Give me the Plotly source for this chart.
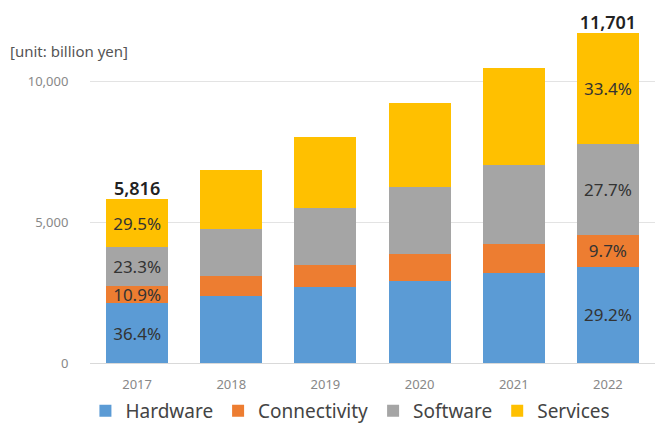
import plotly.graph_objects as go

years = ["2017", "2018", "2019", "2020", "2021", "2022"]
hardware = [2117, 2362, 2681, 2929, 3213, 3417]
connectivity = [634, 734, 805, 947, 1017, 1135]
software = [1355, 1666, 2021, 2386, 2802, 3241]
services = [1710, 2093, 2507, 2958, 3429, 3908]

hw_text = ["36.4%", "", "", "", "", "29.2%"]
cn_text = ["10.9%", "", "", "", "", "9.7%"]
sw_text = ["23.3%", "", "", "", "", "27.7%"]
sv_text = ["29.5%", "", "", "", "", "33.4%"]

total_text = ["5,816", "", "", "", "", "11,701"]

series = [
    ("Hardware", hardware, hw_text, "#5B9BD5"),
    ("Connectivity", connectivity, cn_text, "#ED7D31"),
    ("Software", software, sw_text, "#A5A5A5"),
    ("Services", services, sv_text, "#FFC000"),
]

FONT = "Noto Sans"

fig = go.Figure()
for name, vals, txt, col in series:
    fig.add_trace(go.Bar(
        x=years, y=vals, name=name, marker=dict(color=col, line=dict(width=0)),
        text=txt, textposition="inside", insidetextanchor="middle", textangle=0,
        textfont=dict(color="#333333", size=17, family=FONT),
        hoverinfo="skip",
    ))

totals = [a + b + c + d for a, b, c, d in zip(hardware, connectivity, software, services)]
fig.add_trace(go.Scatter(
    x=years, y=totals, mode="text", text=total_text, textposition="top center",
    textfont=dict(size=18, color="#222222", family=FONT, weight=600),
    showlegend=False, cliponaxis=False, hoverinfo="skip",
))

fig.add_annotation(xref="paper", yref="paper", x=-0.145, y=0.958, xanchor="left",
                   text="[unit: billion yen]", showarrow=False,
                   font=dict(size=15, color="#555555", family=FONT))

fig.update_layout(
    barmode="stack",
    bargap=0.34,
    width=655, height=430,
    margin=dict(l=90, r=0, t=25, b=67),
    paper_bgcolor="white", plot_bgcolor="white",
    font=dict(family=FONT),
    uniformtext=dict(minsize=17, mode="show"),
    legend=dict(orientation="h", xref="container", x=0.535, xanchor="center",
                yref="container", y=-0.005, yanchor="bottom",
                font=dict(size=19, color="#444444", family=FONT),
                itemwidth=30, traceorder="normal", itemclick=False),
    xaxis=dict(type="category", showline=True, linecolor="#d9d9d9",
               ticks="outside", ticklen=9, tickcolor="rgba(0,0,0,0)",
               tickfont=dict(size=13, color="#888888", family=FONT)),
    yaxis=dict(range=[0, 12000], tickvals=[0, 5000, 10000], tickformat=",",
               showgrid=True, gridcolor="#e3e3e3", zeroline=False,
               ticks="outside", ticklen=18, tickcolor="rgba(0,0,0,0)",
               tickfont=dict(size=13, color="#888888", family=FONT)),
)

fig.write_html("out.html")
